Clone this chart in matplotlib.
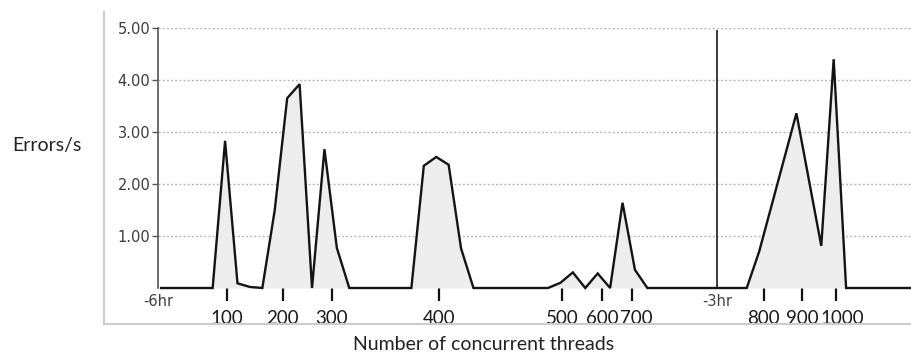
import matplotlib
matplotlib.use("Agg")
import matplotlib.pyplot as plt
from matplotlib.lines import Line2D
from matplotlib.transforms import offset_copy

# Error rate samples (minutes relative to now) and errors per second
sample_minutes = [-359.0, -342.4, -338.4, -334.4, -330.4, -326.4, -322.4, -318.4,
                  -314.4, -310.4, -306.4, -302.4, -298.4, -278.4, -274.4, -270.4,
                  -266.4, -262.4, -258.4, -234.4, -230.4, -226.4, -222.4, -218.4,
                  -214.4, -210.4, -206.4, -202.4, -170.4, -166.4, -154.4, -146.4,
                  -142.4, -138.4, -117.5]
errors_per_sec = [0.0, 0.0, 2.83, 0.09, 0.02, 0.0, 1.50, 3.65,
                  3.92, 0.0, 2.67, 0.77, 0.0, 0.0, 2.35, 2.52,
                  2.37, 0.76, 0.0, 0.0, 0.10, 0.30, 0.0, 0.28,
                  0.0, 1.64, 0.35, 0.0, 0.0, 0.70, 3.36, 0.81,
                  4.40, 0.0, 0.0]

# Moments when the number of concurrent threads was stepped up
thread_minutes = [-337.8, -319.8, -304.0, -269.5, -229.9, -217.0, -207.4,
                  -164.9, -152.6, -141.7]
thread_labels = ["100", "200", "300", "400", "500", "600", "700",
                 "800", "900", "1000"]

# Time markers along the axis
hour_minutes = [-360, -180]
hour_labels = ["-6hr", "-3hr"]

y_ticks = [1, 2, 3, 4, 5]
y_labels = ["1.00", "2.00", "3.00", "4.00", "5.00"]

W, H = 911, 353
fig = plt.figure(figsize=(W / 100, H / 100), dpi=100)
fig.patch.set_facecolor("white")

left, right, top, bottom = 158, 911, 28, 288
ax = fig.add_axes([left / W, (H - bottom) / H, (right - left) / W, (bottom - top) / H])
ax.set_xlim(-360, -117.5)
ax.set_ylim(0, 5)

# Dotted horizontal grid
for yv in y_ticks:
    ax.axhline(yv, color="#b8b8b8", lw=1.0, ls=(0, (1.5, 1.5)), zorder=1)

ax.fill_between(sample_minutes, errors_per_sec, 0, color="#ededed", lw=0, zorder=2)
ax.plot(sample_minutes, errors_per_sec, color="#141414", lw=1.7,
        solid_joinstyle="miter", zorder=4, clip_on=False)

# Marker for the -3hr boundary
ax.axvline(-180, ymin=0, ymax=0.99, color="#3a3a3a", lw=1.4, zorder=3)

for s in ["top", "right", "bottom"]:
    ax.spines[s].set_visible(False)
ax.spines["left"].set_color("#555555")
ax.spines["left"].set_linewidth(1.2)

ax.set_yticks(y_ticks)
ax.set_yticklabels(y_labels, fontfamily="DejaVu Sans", fontsize=10.5, color="#3c3c3c")
ax.tick_params(axis="y", length=4, width=1.0, color="#555555", pad=1.5)

# Thread-count tick marks; labels are laid out separately so neighbours don't collide
ax.set_xticks(thread_minutes)
ax.set_xticklabels([])
ax.tick_params(axis="x", length=9, width=1.6, color="#111111")

label_kw = dict(fontfamily="Lato", fontsize=13.5, color="#1a1a1a",
                ha="center", va="top")
label_y = -0.42
texts = [ax.text(m, label_y, lab, **label_kw) for m, lab in zip(thread_minutes, thread_labels)]
fig.canvas.draw()
renderer = fig.canvas.get_renderer()
prev_right = None
gap = 2.0
for txt in texts:
    bb = txt.get_window_extent(renderer)
    shift = 0.0
    if prev_right is not None and bb.x0 < prev_right + gap:
        shift = prev_right + gap - bb.x0
    if shift:
        txt.set_transform(offset_copy(ax.transData, fig=fig, x=shift, y=0, units="dots"))
    prev_right = bb.x1 + shift

for m, lab in zip(hour_minutes, hour_labels):
    ax.text(m, -0.25, lab, ha="center", va="center", fontfamily="DejaVu Sans",
            fontsize=10.5, color="#404040")

fig.text(47 / W, 1 - 146 / H, "Errors/s", ha="center", va="center",
         fontfamily="Lato", fontsize=14, color="#222222")
fig.text(484 / W, 1 - 345 / H, "Number of concurrent threads", ha="center", va="center",
         fontfamily="Lato", fontsize=14, color="#222222")

# Light outer frame around the chart panel
fig.add_artist(Line2D([104 / W, 104 / W], [1 - 12 / H, 1 - 324 / H],
                      transform=fig.transFigure, color="#cccccc", lw=1.5))
fig.add_artist(Line2D([104 / W, 1.0], [1 - 324 / H, 1 - 324 / H],
                      transform=fig.transFigure, color="#cccccc", lw=1.5))

fig.savefig("out.png", dpi=100, facecolor="white")
